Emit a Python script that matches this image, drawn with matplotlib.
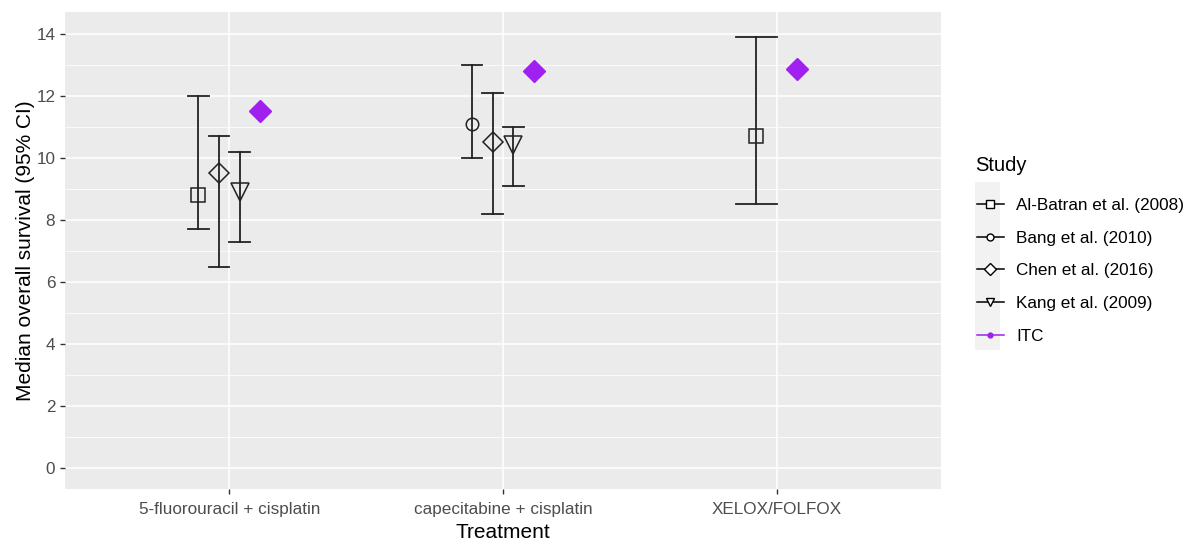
import matplotlib
matplotlib.use("Agg")
import matplotlib.pyplot as plt
from matplotlib.lines import Line2D
from matplotlib.patches import Rectangle
import numpy as np

plt.rcParams['font.family'] = ['Liberation Sans', 'DejaVu Sans']

treatments = ["5-fluorouracil + cisplatin", "capecitabine + cisplatin", "XELOX/FOLFOX"]
studies = ["Al-Batran et al. (2008)", "Bang et al. (2010)", "Chen et al. (2016)", "Kang et al. (2009)", "ITC"]

# rows: (treatment index, study, median, lower, upper)
row_treatment = [0, 0, 0, 0, 1, 1, 1, 1, 2, 2]
row_study = ["Al-Batran et al. (2008)", "Chen et al. (2016)", "Kang et al. (2009)", "ITC",
             "Bang et al. (2010)", "Chen et al. (2016)", "Kang et al. (2009)", "ITC",
             "Al-Batran et al. (2008)", "ITC"]
row_median = [8.8, 9.5, 8.9, 11.5, 11.1, 10.5, 10.4, 12.8, 10.7, 12.85]
row_lower = [7.7, 6.5, 7.3, None, 10.0, 8.2, 9.1, None, 8.5, None]
row_upper = [12.0, 10.7, 10.2, None, 13.0, 12.1, 11.0, None, 13.9, None]

markers = {"Al-Batran et al. (2008)": "s", "Bang et al. (2010)": "o",
           "Chen et al. (2016)": "D", "Kang et al. (2009)": "v", "ITC": "D"}
msizes = {"Al-Batran et al. (2008)": 10, "Bang et al. (2010)": 9,
          "Chen et al. (2016)": 10.5, "Kang et al. (2009)": 13, "ITC": 11}
purple = "#A020F0"

fig = plt.figure(figsize=(11.85, 5.4), dpi=100)
ax = fig.add_axes([65/1185, 1-489/540, (941-65)/1185, (489-12)/540])
ax.set_facecolor("#EBEBEB")
for s in ax.spines.values():
    s.set_visible(False)

ax.set_xlim(0.4, 3.6)
ax.set_ylim(-0.666, 14.70)
ax.set_xticks([1, 2, 3])
ax.set_xticklabels(treatments)
ax.set_yticks(np.arange(0, 15, 2))
ax.set_yticks(np.arange(1, 15, 2), minor=True)
ax.grid(which="major", color="white", linewidth=1.1)
ax.grid(which="minor", axis="y", color="white", linewidth=0.55)
ax.set_axisbelow(True)
ax.tick_params(axis="both", which="major", colors="#333333", labelcolor="#4D4D4D",
               labelsize=12.3, length=3.5, width=1)
ax.tick_params(axis="x", which="major", pad=6)
ax.tick_params(axis="both", which="minor", length=0)

dodge = 0.3
for t in range(3):
    idx = [i for i in range(len(row_treatment)) if row_treatment[i] == t]
    n = len(idx)
    for k, i in enumerate(idx):
        x = (t + 1) + (k - (n - 1) / 2) * dodge / n
        st = row_study[i]
        if row_lower[i] is not None:
            hw = dodge / n / 2
            ax.plot([x, x], [row_lower[i], row_upper[i]], color="#222222", lw=1.3, zorder=3)
            ax.plot([x - hw, x + hw], [row_lower[i]] * 2, color="#222222", lw=1.3, zorder=3)
            ax.plot([x - hw, x + hw], [row_upper[i]] * 2, color="#222222", lw=1.3, zorder=3)
        if st == "ITC":
            ax.plot([x], [row_median[i]], marker="D", ms=msizes[st], color=purple,
                    mec=purple, linestyle="none", zorder=4)
        else:
            ax.plot([x], [row_median[i]], marker=markers[st], ms=msizes[st], mfc="none",
                    mec="#222222", mew=1.1, linestyle="none", zorder=4)

ax.set_xlabel("Treatment", fontsize=15, color="black", labelpad=4)
ax.set_ylabel("Median overall survival (95% CI)", fontsize=15, color="black", labelpad=1)

# legend
fig.add_artist(Rectangle((975/1185, 1-350/540), 25/1185, 168/540,
                         transform=fig.transFigure, facecolor="#F2F2F2", edgecolor="none"))
fig.text(975/1185, 1-166/540, "Study", fontsize=14.5, color="black", ha="left", va="center")
handles = []
for st in studies:
    if st == "ITC":
        handles.append(Line2D([], [], color=purple, marker="o", ms=3.5, lw=1.1))
    else:
        ms = {"s": 6, "o": 5, "D": 6, "v": 6}[markers[st]]
        handles.append(Line2D([], [], color="black", marker=markers[st], ms=ms,
                              mfc="white", mec="black", lw=1.1))
leg = fig.legend(handles, studies, loc="upper left", bbox_to_anchor=(972/1185, 1-193/540),
                 frameon=False, fontsize=12.3, borderaxespad=0, borderpad=0.3,
                 handlelength=1.55, handletextpad=0.75, labelspacing=1.03)
plt.savefig("out.png", dpi=100)
